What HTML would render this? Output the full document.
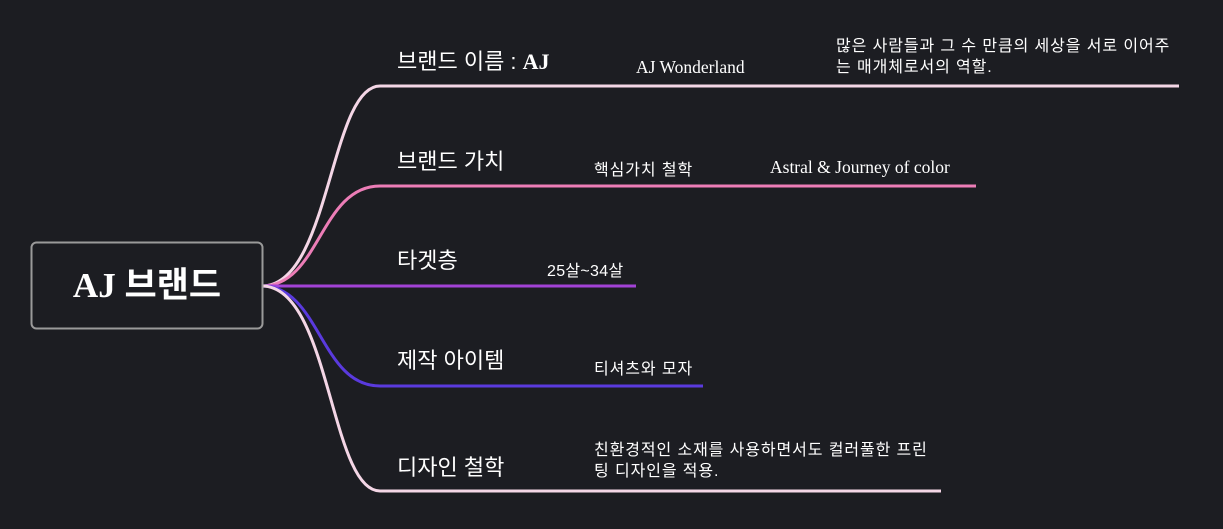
<!DOCTYPE html>
<html><head><meta charset="utf-8"><style>
body{margin:0;background:#1c1d22;width:1223px;height:529px;overflow:hidden;position:relative;font-family:"Liberation Sans","Noto Sans CJK KR",sans-serif;color:#fff}
.t{position:absolute;white-space:nowrap}
.l{font-size:22px}
.s{font-size:16px;letter-spacing:0.9px}
.serif{font-family:"Liberation Serif","Noto Sans CJK KR",serif}
.e{font-size:17.5px;letter-spacing:0}
</style></head><body>
<svg width="1223" height="529" style="position:absolute;left:0;top:0" fill="none" stroke-width="3">
<path d="M262 286 C330 286 330 86 380 86 L1179 86" stroke="#f4d6e6"/>
<path d="M262 286 C320 286 320 186 380 186 L976 186" stroke="#ec7db7"/>
<path d="M262 286 L636 286" stroke="#a242d6"/>
<path d="M262 286 C320 286 320 386 380 386 L703 386" stroke="#5a3ade"/>
<path d="M262 286 C330 286 330 491 380 491 L941 491" stroke="#f4d6e6"/>
<rect x="31.5" y="242.5" width="231" height="86" rx="5" stroke="#9a9a9a" stroke-width="2" fill="#1c1d22"/>
</svg>
<div class="t serif" style="left:31px;top:242px;width:232px;height:87px;line-height:87px;text-align:center;font-size:35px;font-weight:bold">AJ 브랜드</div>
<div class="t l" style="left:397px;top:44px">브랜드 이름 : <b class="serif">AJ</b></div>
<div class="t serif e" style="left:636px;top:57px">AJ Wonderland</div>
<div class="t s" style="left:836px;top:36px;line-height:21px">많은 사람들과 그 수 만큼의 세상을 서로 이어주<br>는 매개체로서의 역할.</div>
<div class="t l" style="left:397px;top:144px">브랜드 가치</div>
<div class="t s" style="left:594px;top:156px">핵심가치 철학</div>
<div class="t serif e" style="left:770px;top:157px">Astral &amp; Journey of color</div>
<div class="t l" style="left:397px;top:243px">타겟층</div>
<div class="t s" style="left:547px;top:257px;letter-spacing:0.3px">25살~34살</div>
<div class="t l" style="left:397px;top:343px">제작 아이템</div>
<div class="t s" style="left:594px;top:355px">티셔츠와 모자</div>
<div class="t l" style="left:397px;top:450px">디자인 철학</div>
<div class="t s" style="left:594px;top:440px;line-height:21px">친환경적인 소재를 사용하면서도 컬러풀한 프린<br>팅 디자인을 적용.</div>
</body></html>
